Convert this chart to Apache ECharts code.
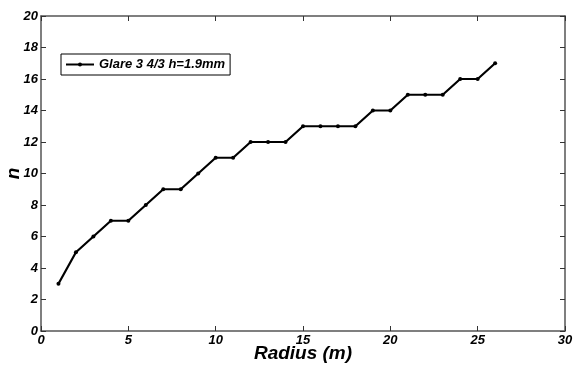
<!DOCTYPE html>
<html>
<head>
<meta charset="utf-8">
<script src="https://cdn.jsdelivr.net/npm/echarts@6/dist/echarts.min.js"></script>
<style>
  html, body { margin: 0; padding: 0; background: #fff; }
  #chart { width: 574px; height: 366px; }
</style>
</head>
<body>
<div id="chart"></div>
<script>
// radius in metres and the matching n
const radius = [1, 2, 3, 4, 5, 6, 7, 8, 9, 10, 11, 12, 13, 14, 15, 16, 17, 18, 19, 20, 21, 22, 23, 24, 25, 26]
const nValues = [3, 5, 6, 7, 7, 8, 9, 9, 10, 11, 11, 12, 12, 12, 13, 13, 13, 13, 14, 14, 15, 15, 15, 16, 16, 17]
const seriesName = "Glare 3 4/3 h=1.9mm"

const font = "Arial, 'Liberation Sans', sans-serif"
const labelStyle = { color: "#000", fontFamily: font, fontWeight: "bold", fontStyle: "italic", fontSize: 13 }
const nameStyle = { color: "#000", fontFamily: font, fontWeight: "bold", fontStyle: "italic", fontSize: 19 }

const myChart = echarts.init(document.getElementById("chart"))

// box axes: line + inward ticks, mirrored on top and right
const frameAxis = {
  axisLine: { show: true, onZero: false, lineStyle: { color: "#555", width: 1.5 } },
  axisTick: { show: true, inside: true, length: 5, lineStyle: { color: "#333" } },
  splitLine: { show: false }
}

const option = {
  animation: false,
  backgroundColor: "#fff",
  grid: { left: 41, right: 9, top: 16, bottom: 35, outerBoundsMode: "none" },
  legend: {
    data: [seriesName],
    left: 61,
    top: 54,
    padding: [4, 5, 4, 4],
    itemWidth: 28,
    itemHeight: 5,
    itemGap: 4,
    borderColor: "#000",
    borderWidth: 1,
    borderRadius: 0,
    textStyle: labelStyle
  },
  xAxis: [
    {
      type: "value",
      min: 0,
      max: 30,
      interval: 5,
      name: "Radius (m)",
      nameLocation: "middle",
      nameGap: 13,
      nameMoveOverlap: false,
      nameTextStyle: nameStyle,
      axisLabel: Object.assign({ margin: 3 }, labelStyle),
      ...frameAxis
    },
    {
      type: "value",
      position: "top",
      min: 0,
      max: 30,
      interval: 5,
      axisLabel: { show: false },
      ...frameAxis
    }
  ],
  yAxis: [
    {
      type: "value",
      min: 0,
      max: 20,
      interval: 2,
      name: "n",
      nameLocation: "middle",
      nameGap: 18,
      nameMoveOverlap: false,
      nameTextStyle: nameStyle,
      axisLabel: Object.assign({ margin: 3 }, labelStyle),
      ...frameAxis
    },
    {
      type: "value",
      position: "right",
      min: 0,
      max: 20,
      interval: 2,
      axisLabel: { show: false },
      ...frameAxis
    }
  ],
  series: [
    {
      name: seriesName,
      type: "line",
      data: radius.map((r, i) => [r, nValues[i]]),
      symbol: "circle",
      symbolSize: 4,
      lineStyle: { color: "#000", width: 2.2 },
      itemStyle: { color: "#000" }
    }
  ]
}
myChart.setOption(option)
</script>
</body>
</html>
